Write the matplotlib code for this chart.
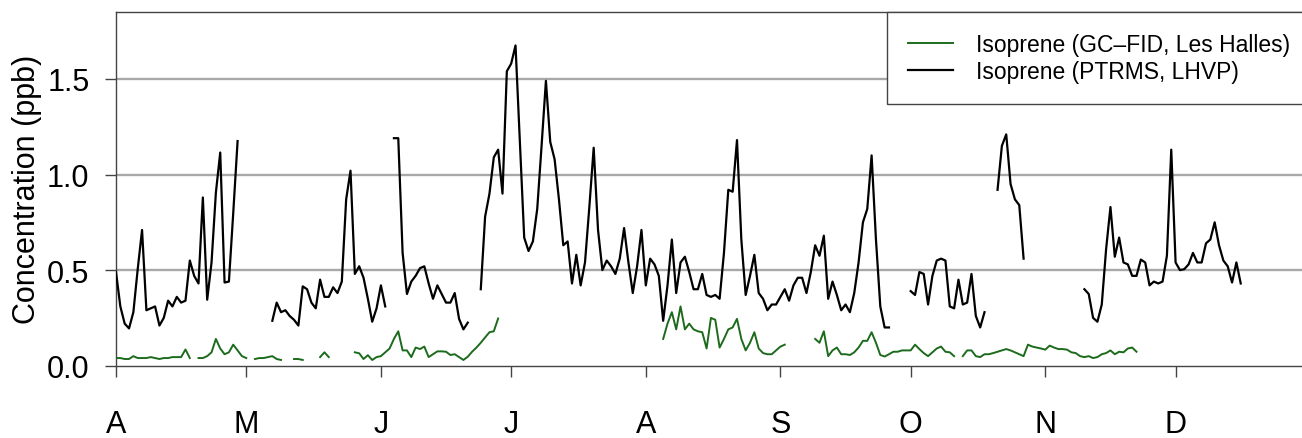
import numpy as np
import pandas as pd
import matplotlib
matplotlib.use("Agg")
import matplotlib.pyplot as plt

plt.rcParams['font.family'] = ['Liberation Sans', 'DejaVu Sans']

# daily isoprene, runs of consecutive days (start = days after 1 April)
ptrms_starts = [0, 36, 64, 84, 183, 203, 223]
ptrms_runs = [
    [0.49, 0.31, 0.22, 0.195, 0.28, 0.505, 0.71, 0.29, 0.30, 0.31,
     0.21, 0.25, 0.34, 0.31, 0.36, 0.33, 0.34, 0.55, 0.47, 0.43,
     0.88, 0.345, 0.54, 0.905, 1.115, 0.435, 0.44, 0.80, 1.175],
    [0.235, 0.33, 0.28, 0.29, 0.26, 0.24, 0.21, 0.415, 0.40, 0.33,
     0.30, 0.45, 0.36, 0.36, 0.41, 0.38, 0.44, 0.87, 1.02, 0.48,
     0.52, 0.46, 0.35, 0.23, 0.30, 0.42, 0.31],
    [1.19, 1.19, 0.59, 0.375, 0.44, 0.47, 0.51, 0.52, 0.43, 0.35,
     0.42, 0.375, 0.33, 0.33, 0.38, 0.245, 0.19, 0.225],
    [0.40, 0.78, 0.90, 1.09, 1.13, 0.90, 1.54, 1.58, 1.675, 1.17,
     0.67, 0.60, 0.65, 0.82, 1.15, 1.49, 1.17, 1.08, 0.87, 0.63,
     0.65, 0.43, 0.58, 0.42, 0.54, 0.83, 1.14, 0.71, 0.50, 0.55,
     0.52, 0.48, 0.56, 0.72, 0.54, 0.38, 0.52, 0.71, 0.42, 0.56,
     0.53, 0.47, 0.235, 0.42, 0.66, 0.38, 0.54, 0.57, 0.49, 0.40,
     0.40, 0.48, 0.37, 0.36, 0.37, 0.35, 0.59, 0.92, 0.91, 1.18,
     0.66, 0.37, 0.47, 0.58, 0.38, 0.35, 0.29, 0.32, 0.32, 0.36,
     0.40, 0.34, 0.42, 0.46, 0.46, 0.38, 0.49, 0.63, 0.575, 0.68,
     0.35, 0.44, 0.37, 0.29, 0.32, 0.28, 0.38, 0.54, 0.75, 0.82,
     1.10, 0.66, 0.31, 0.20, 0.20],
    [0.39, 0.37, 0.49, 0.48, 0.32, 0.47, 0.55, 0.56, 0.55, 0.31,
     0.30, 0.45, 0.32, 0.33, 0.48, 0.26, 0.20, 0.28],
    [0.92, 1.15, 1.21, 0.95, 0.87, 0.84, 0.56],
    [0.40, 0.375, 0.25, 0.23, 0.32, 0.61, 0.83, 0.57, 0.67, 0.54,
     0.53, 0.47, 0.47, 0.555, 0.54, 0.42, 0.44, 0.43, 0.44, 0.575,
     1.13, 0.54, 0.50, 0.505, 0.53, 0.59, 0.54, 0.54, 0.64, 0.66,
     0.75, 0.63, 0.55, 0.52, 0.435, 0.54, 0.43],
]

gcfid_starts = [0, 19, 32, 41, 47, 55, 126, 161, 195]
gcfid_runs = [
    [0.04, 0.04, 0.035, 0.035, 0.05, 0.04, 0.04, 0.04, 0.045, 0.04,
     0.035, 0.04, 0.04, 0.045, 0.045, 0.045, 0.085, 0.04],
    [0.04, 0.04, 0.05, 0.07, 0.14, 0.09, 0.06, 0.07, 0.11, 0.08, 0.05, 0.04],
    [0.035, 0.04, 0.04, 0.045, 0.05, 0.035, 0.03],
    [0.035, 0.035, 0.03],
    [0.045, 0.07, 0.045],
    [0.07, 0.065, 0.035, 0.055, 0.03, 0.045, 0.05, 0.07, 0.09, 0.14,
     0.18, 0.08, 0.08, 0.045, 0.095, 0.087, 0.10, 0.045, 0.06, 0.075,
     0.075, 0.073, 0.056, 0.06, 0.045, 0.03, 0.047, 0.073, 0.095, 0.12,
     0.148, 0.175, 0.18, 0.247],
    [0.14, 0.22, 0.28, 0.19, 0.31, 0.19, 0.22, 0.19, 0.18, 0.175,
     0.09, 0.25, 0.24, 0.095, 0.14, 0.19, 0.20, 0.245, 0.14, 0.08,
     0.12, 0.175, 0.09, 0.066, 0.06, 0.06, 0.08, 0.10, 0.11],
    [0.14, 0.12, 0.18, 0.05, 0.08, 0.095, 0.06, 0.06, 0.056, 0.07,
     0.095, 0.13, 0.13, 0.175, 0.12, 0.056, 0.048, 0.06, 0.073, 0.073,
     0.08, 0.08, 0.08, 0.11, 0.087, 0.066, 0.05, 0.07, 0.09, 0.10,
     0.073, 0.07, 0.05],
    [0.05, 0.08, 0.08, 0.05, 0.045, 0.06, 0.06, 0.066, 0.073, 0.08,
     0.087, 0.08, 0.07, 0.06, 0.05, 0.11, 0.10, 0.095, 0.09, 0.084,
     0.105, 0.095, 0.087, 0.087, 0.084, 0.07, 0.066, 0.05, 0.045, 0.05,
     0.04, 0.045, 0.06, 0.066, 0.08, 0.06, 0.073, 0.07, 0.09, 0.095,
     0.073],
]

month_labels = ['A', 'M', 'J', 'J', 'A', 'S', 'O', 'N', 'D']
t0 = pd.Timestamp('2010-04-01')


def to_series(starts, runs):
    days, vals = [], []
    for s, r in zip(starts, runs):
        days += list(range(s, s + len(r))) + [s + len(r)]
        vals += list(r) + [np.nan]
    return t0 + pd.to_timedelta(days, unit='D'), np.array(vals)


fig = plt.figure(figsize=(13.02, 4.39), dpi=100)
ax = fig.add_axes([116 / 1302, 1 - 366.7 / 439, 1189 / 1302, 353.7 / 439])

for y in [0.5, 1.0, 1.5]:
    ax.axhline(y, color='#a8a8a8', lw=1.7, zorder=1)

xg, yg = to_series(gcfid_starts, gcfid_runs)
xp, yp = to_series(ptrms_starts, ptrms_runs)
ax.plot(xg, yg, color='#1c6b1c', lw=1.4, label='Isoprene (GC\u2013FID, Les Halles)', zorder=3)
ax.plot(xp, yp, color='black', lw=1.6, label='Isoprene (PTRMS, LHVP)', zorder=3)

ax.set_xlim(t0, t0 + pd.Timedelta(days=273.8))
ax.set_ylim(0, 1.85)

ticks = pd.date_range(t0, periods=9, freq='MS')
ax.set_xticks(ticks)
ax.set_xticklabels(month_labels)
ax.set_yticks([0.0, 0.5, 1.0, 1.5])
ax.set_yticklabels(['0.0', '0.5', '1.0', '1.5'])
ax.tick_params(axis='x', length=8, width=1, color='#444444', pad=23, labelsize=22)
ax.tick_params(axis='y', length=8, width=1, color='#444444', pad=11, labelsize=22)

for sp in ax.spines.values():
    sp.set_color('#444444')
    sp.set_linewidth(1.0)

ax.set_ylabel('Concentration (ppb)', fontsize=22)
ax.yaxis.set_label_coords(-0.062, 0.5)

leg = ax.legend(loc='upper left', bbox_to_anchor=((887 - 116) / 1189, 1.0),
                borderaxespad=0, fontsize=16.5, frameon=True, fancybox=False,
                framealpha=1, edgecolor='#444444', handlelength=2.0,
                handletextpad=1.0, borderpad=0.9, labelspacing=0.2)
leg.get_frame().set_linewidth(1.0)

fig.savefig('out.png', dpi=100)
